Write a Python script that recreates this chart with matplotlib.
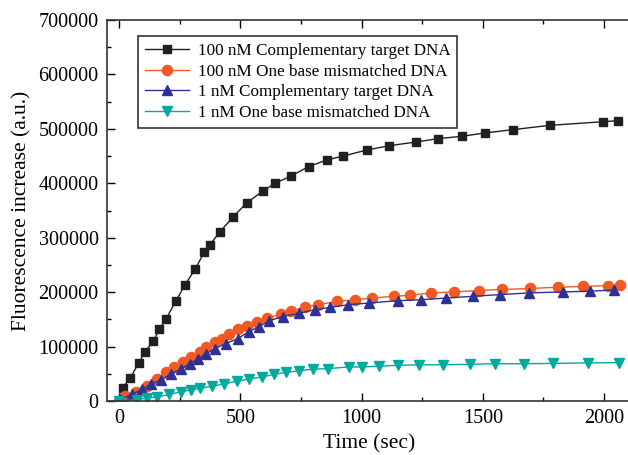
import numpy as np
import matplotlib
matplotlib.use("Agg")
import matplotlib.pyplot as plt
from matplotlib.ticker import MultipleLocator

# data
t_black = [14, 45, 80, 107, 141, 166, 194, 234, 272, 313, 351, 374, 414, 471, 527,
           593, 643, 709, 781, 856, 925, 1021, 1114, 1225, 1313, 1413, 1507, 1623,
           1777, 1997, 2056]
y_black = [24400, 41700, 69300, 90600, 110200, 131700, 151200, 183700, 213700, 242000,
           273200, 286600, 310000, 338600, 364300, 385800, 400000, 413400, 430500,
           442800, 450100, 461100, 469000, 475900, 481900, 486300, 492400, 498500,
           506500, 513200, 515000]

t_orange = [0, 26, 68, 117, 158, 193, 228, 263, 298, 333, 360, 395, 423, 455, 490, 528,
            569, 611, 667, 709, 765, 820, 897, 974, 1043, 1134, 1200, 1287, 1382, 1482,
            1577, 1695, 1809, 1914, 2018, 2067]
y_orange = [0, 9400, 16700, 27900, 40200, 52700, 62100, 71300, 80700, 90000, 99200,
            108600, 114800, 122200, 131500, 138400, 145900, 152100, 159500, 165700,
            172000, 176900, 183000, 186100, 189200, 192400, 194200, 198600, 200400,
            203000, 204900, 206700, 209100, 210400, 212200, 214000]

t_blue = [5, 54, 96, 131, 172, 214, 256, 291, 326, 360, 395, 440, 490, 534, 576, 618,
          674, 743, 806, 869, 945, 1029, 1148, 1245, 1350, 1461, 1572, 1691, 1830,
          1942, 2039]
y_blue = [3100, 12300, 21700, 31000, 38400, 49600, 59000, 68200, 77500, 86900, 96300,
          105500, 114800, 127100, 136500, 147200, 155100, 161300, 167600, 172000,
          176900, 180000, 184300, 186100, 189200, 192400, 195500, 198600, 200400,
          201700, 204000]

t_teal = [0, 75, 117, 158, 207, 256, 298, 333, 381, 434, 486, 534, 588, 639, 688, 743,
          799, 862, 946, 1001, 1071, 1148, 1238, 1336, 1447, 1552, 1670, 1788, 1935, 2060]
y_teal = [0, 2500, 5500, 7500, 12000, 17000, 20500, 23500, 27000, 31500, 36500, 40000,
          44000, 49000, 52500, 55500, 58500, 59500, 62500, 62500, 64000, 65500, 66500,
          66500, 67500, 68500, 68500, 69000, 70000, 70500]

labels = ["100 nM Complementary target DNA", "100 nM One base mismatched DNA",
          "1 nM Complementary target DNA", "1 nM One base mismatched DNA"]

plt.rcParams['font.family'] = ['Liberation Serif', 'DejaVu Serif']

fig = plt.figure(figsize=(6.28, 4.55), dpi=100)
ax = fig.add_axes([107/628, 54/455, 525/628, 381/455])

ax.plot(t_black, y_black, color="#231f20", marker="s", markersize=6.2, lw=1, label=labels[0])
ax.plot(t_orange, y_orange, color="#f15a24", marker="o", markersize=7.3, lw=1, label=labels[1])
ax.plot(t_blue, y_blue, color="#2e3192", marker="^", markersize=7.8, lw=1, label=labels[2])
ax.plot(t_teal, y_teal, color="#00a99d", marker="v", markersize=7.8, lw=1, label=labels[3])

ax.set_xlim(-50, 2115)
ax.set_ylim(0, 700000)
ax.xaxis.set_major_locator(MultipleLocator(500))
ax.xaxis.set_minor_locator(MultipleLocator(250))
ax.yaxis.set_major_locator(MultipleLocator(100000))
ax.yaxis.set_minor_locator(MultipleLocator(50000))
ax.tick_params(which="both", direction="in", top=True, right=False, labelsize=14.5, pad=6)
ax.tick_params(which="major", length=6, width=1)
ax.tick_params(which="minor", length=3, width=1)
for s in ax.spines.values():
    s.set_linewidth(1.2)
    s.set_color("#333333")

ax.set_xlabel("Time (sec)", fontsize=15.5, labelpad=4)
ax.set_ylabel("Fluorescence increase (a.u.)", fontsize=15.5, labelpad=5)

leg = ax.legend(loc="upper left", bbox_to_anchor=(31/525, 1 - 16/381), borderaxespad=0,
                fontsize=12.3, frameon=True, fancybox=False, framealpha=1,
                edgecolor="#333333", handlelength=2.6, borderpad=0.4,
                labelspacing=0.28, handletextpad=0.5)
leg.get_frame().set_linewidth(1.2)

fig.savefig("out.png", dpi=100)
